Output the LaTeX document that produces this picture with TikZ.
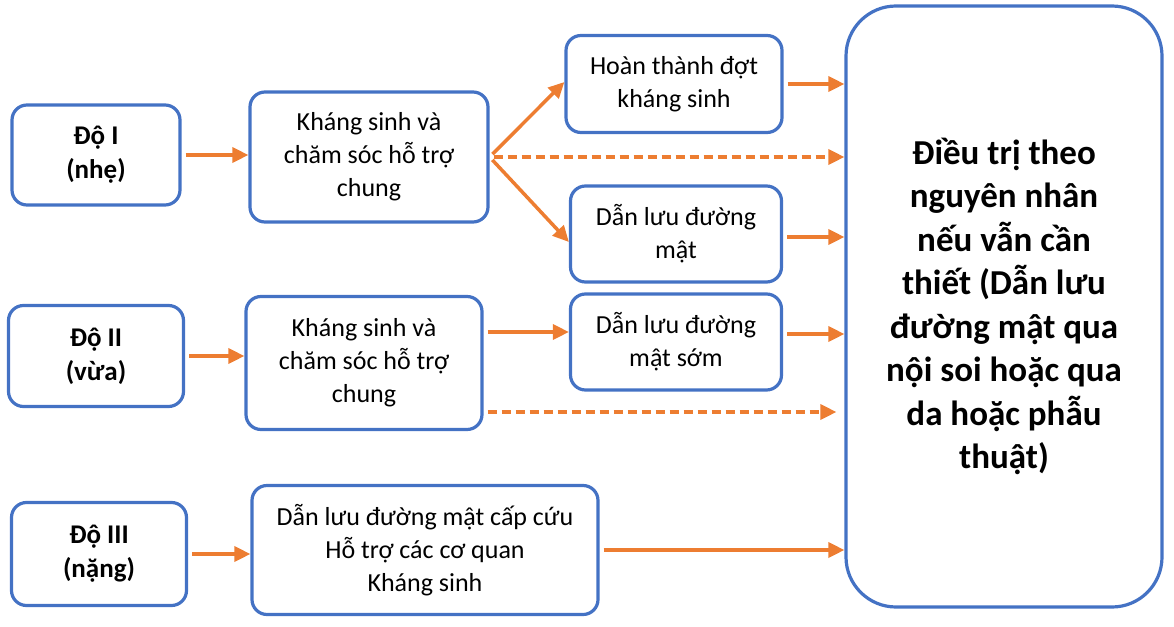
\documentclass[tikz,border=0pt]{standalone}
\usepackage{fontspec}
\setmainfont{Carlito}
\usepackage{tikz}
\usetikzlibrary{arrows.meta}
\usetikzlibrary{positioning}
\definecolor{boxblue}{HTML}{4472C4}
\definecolor{arrorange}{HTML}{ED7D31}
\tikzset{
    stagebox/.style={draw=boxblue, line width=3.2pt, rounded corners=15pt, align=center,
        inner sep=0pt, font=\fontsize{27}{34}\selectfont\bfseries},
    carebox/.style={draw=boxblue, line width=3.2pt, rounded corners=15pt, align=center,
        inner sep=0pt, font=\fontsize{26}{33}\selectfont},
    bigbox/.style={draw=boxblue, line width=3.2pt, rounded corners=50pt, align=center,
        inner sep=0pt, font=\fontsize{35}{43.5}\selectfont\bfseries},
    flow/.style={draw=arrorange, line width=3.5pt, shorten <=4pt,
        -{Triangle[length=16pt,width=15pt]}},
    flowdash/.style={flow, dash pattern=on 9pt off 5pt},
}

\begin{document}
\begin{tikzpicture}[x=1pt, y=-1pt]
	\useasboundingbox (0,0) rectangle (1174,626);
	% left column
	\node[stagebox, minimum width=168pt, minimum height=100pt] (d1) at (96,155) {Độ I\\(nhẹ)};
	\node[stagebox, minimum width=175pt, minimum height=101pt] (d2) at (96,356) {Độ II\\(vừa)};
	\node[stagebox, minimum width=175pt, minimum height=103pt] (d3) at (99,554) {Độ III\\(nặng)};
	% middle column
	\node[carebox, minimum width=238pt, minimum height=130pt] (k1) at (369,157) {Kháng sinh và\\chăm sóc hỗ trợ\\chung};
	\node[carebox, minimum width=236pt, minimum height=133pt] (k2) at (364,363) {Kháng sinh và\\chăm sóc hỗ trợ\\chung};
	\node[carebox, minimum width=346pt, minimum height=129pt] (cc) at (425,550) {Dẫn lưu đường mật cấp cứu\\Hỗ trợ các cơ quan\\Kháng sinh};
	% right column
	\node[carebox, minimum width=216pt, minimum height=97pt] (ht) at (674,84) {Hoàn thành đợt\\kháng sinh};
	\node[carebox, minimum width=211pt, minimum height=96pt] (dl) at (676,234) {Dẫn lưu đường\\mật};
	\node[carebox, minimum width=211pt, minimum height=96pt] (ds) at (676,342) {Dẫn lưu đường\\mật sớm};
	\node[bigbox, minimum width=316pt, minimum height=601pt] (dt) at (1004,306.5) {Điều trị theo\\nguyên nhân\\nếu vẫn cần\\thiết (Dẫn lưu\\đường mật qua\\nội soi hoặc qua\\da hoặc phẫu\\thuật)};
	% arrow ends
	\coordinate (dlout) at ([yshift=-3pt]dl.east);
	\coordinate (dsin) at ([yshift=10pt]ds.west);
	\coordinate (dsout) at ([yshift=8pt]ds.east);
	\coordinate (k2out) at ([yshift=-49pt]k2.east);
	\coordinate (k2end) at ([xshift=-8pt]dt.west |- k2out);
	% arrows
	\draw[flow] (d1.east) -- (k1.west |- d1.east);
	\draw[flow] (d2.east) -- (k2.west |- d2.east);
	\draw[flow] (d3.east) -- (cc.west |- d3.east);
	\draw[flow] (k1.east) -- ([yshift=2pt]ht.west);
	\draw[flow] (k1.east) -- ([yshift=-8pt]dl.west);
	\draw[flowdash] (k1.east) -- (dt.west |- k1.east);
	\draw[flow] (ht.east) -- (dt.west |- ht.east);
	\draw[flow] (dlout) -- (dt.west |- dlout);
	\draw[flow] (dsin -| k2.east) -- (dsin);
	\draw[flow] (dsout) -- (dt.west |- dsout);
	\draw[flowdash] (k2out) -- (k2end);
	\draw[flow] (cc.east) -- (dt.west |- cc.east);
\end{tikzpicture}
\end{document}
